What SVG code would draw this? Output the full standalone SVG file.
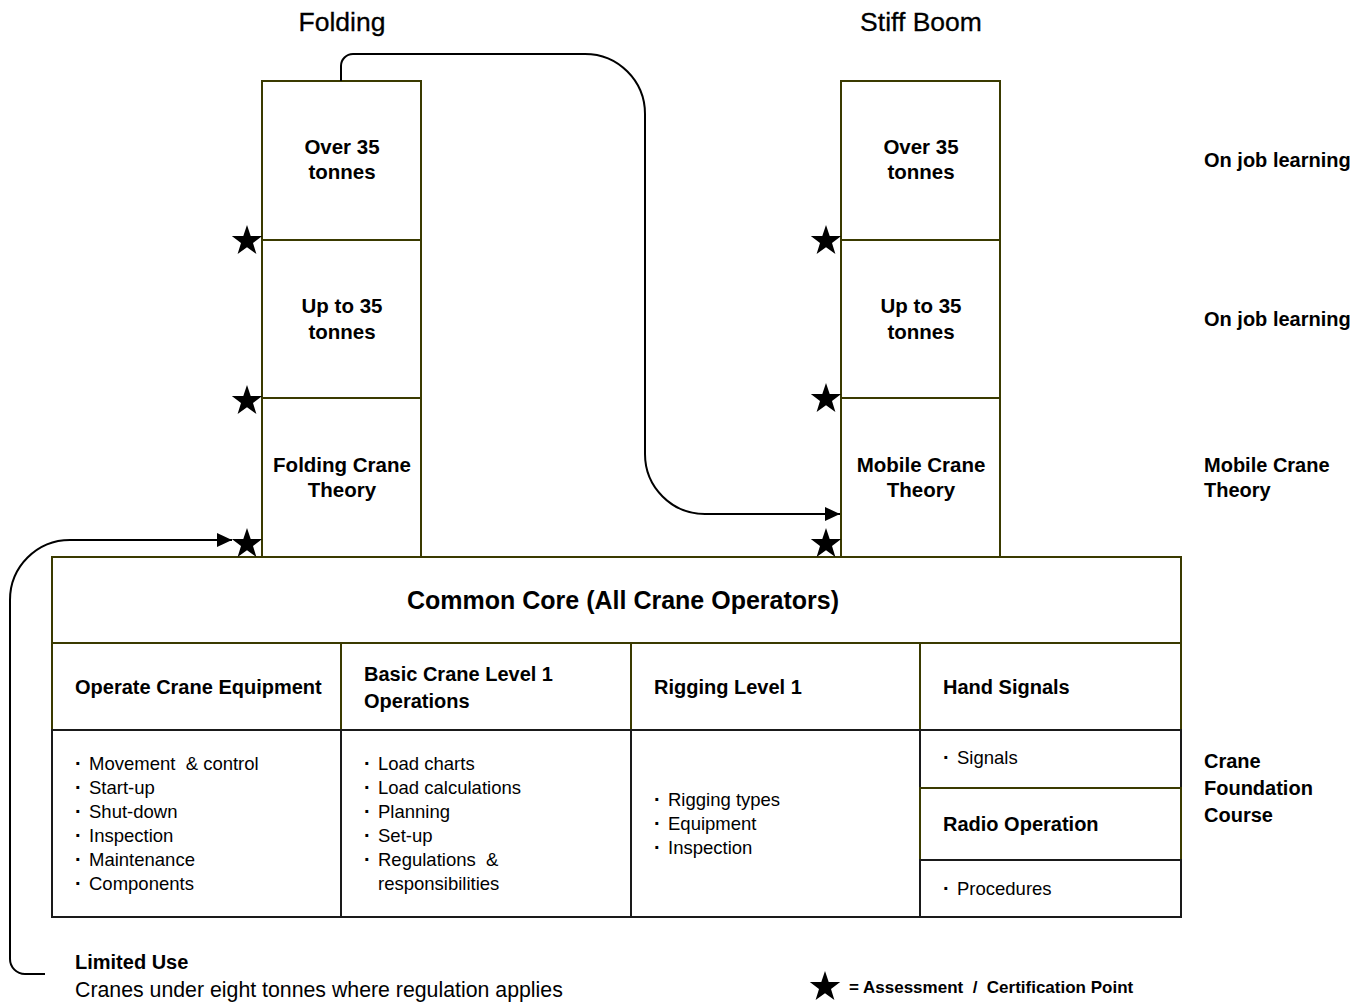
<svg xmlns="http://www.w3.org/2000/svg" width="1368" height="1002" viewBox="0 0 1368 1002">
<defs>
<style>
text{font-family:"Liberation Sans",Arial,sans-serif;fill:#000}
.t{font-size:26.5px;text-anchor:middle;stroke:#000;stroke-width:0.3}
.b{font-size:20px;font-weight:bold}
.bc{font-size:20.5px;font-weight:bold;text-anchor:middle}
.core{font-size:25px;font-weight:bold;text-anchor:middle}
.r{font-size:18.5px}
.d{font-weight:bold;font-size:20px}
.ol{fill:#fff;stroke:#3a3a00;stroke-width:2}
.bk{fill:#fff;stroke:#1a1a1a;stroke-width:2}
.conn{fill:none;stroke:#000;stroke-width:2}
</style>
<path id="star" d="M0,-16 L3.7,-5.1 L15.2,-4.9 L6,1.9 L9.4,13 L0,6.3 L-9.4,13 L-6,1.9 L-15.2,-4.9 L-3.7,-5.1 Z" fill="#000"/>
<marker id="arr" markerWidth="16" markerHeight="14" refX="15" refY="7" orient="auto" markerUnits="userSpaceOnUse">
<path d="M0,0 L15,7 L0,14 Z" fill="#000"/>
</marker>
</defs>
<rect width="1368" height="1002" fill="#fff"/>

<text class="t" x="342" y="31">Folding</text>
<text class="t" x="921" y="31">Stiff Boom</text>

<g id="folding-over35"><rect class="ol" x="262" y="81" width="159" height="159"/><text class="bc" x="342" y="154">Over 35</text><text class="bc" x="342" y="179">tonnes</text></g>
<g id="folding-upto35"><rect class="ol" x="262" y="240" width="159" height="158"/><text class="bc" x="342" y="313">Up to 35</text><text class="bc" x="342" y="339">tonnes</text></g>
<g id="folding-theory"><rect class="ol" x="262" y="398" width="159" height="159"/><text class="bc" x="342" y="472">Folding Crane</text><text class="bc" x="342" y="497">Theory</text></g>

<g id="stiff-over35"><rect class="ol" x="841" y="81" width="159" height="159"/><text class="bc" x="921" y="154">Over 35</text><text class="bc" x="921" y="179">tonnes</text></g>
<g id="stiff-upto35"><rect class="ol" x="841" y="240" width="159" height="158"/><text class="bc" x="921" y="313">Up to 35</text><text class="bc" x="921" y="339">tonnes</text></g>
<g id="stiff-theory"><rect class="ol" x="841" y="398" width="159" height="159"/><text class="bc" x="921" y="472">Mobile Crane</text><text class="bc" x="921" y="497">Theory</text></g>

<g id="common-core"><rect class="ol" x="52" y="557" width="1129" height="86"/><text class="core" x="623" y="609">Common Core (All Crane Operators)</text></g>

<g id="operate-crane"><rect class="ol" x="52" y="643" width="289" height="87"/><text class="b" x="75" y="694">Operate Crane Equipment</text></g>
<g id="basic-crane"><rect class="ol" x="341" y="643" width="290" height="87"/><text class="b" x="364" y="681">Basic Crane Level 1</text><text class="b" x="364" y="708">Operations</text></g>
<g id="rigging"><rect class="ol" x="631" y="643" width="289" height="87"/><text class="b" x="654" y="694">Rigging Level 1</text></g>
<g id="hand-signals"><rect class="ol" x="920" y="643" width="261" height="87"/><text class="b" x="943" y="694">Hand Signals</text></g>

<g id="operate-list"><rect class="bk" x="52" y="730" width="289" height="187"/>
<text class="r" y="770" xml:space="preserve"><tspan class="d" x="75">·</tspan><tspan x="89">Movement  &amp; control</tspan></text>
<text class="r" y="794"><tspan class="d" x="75">·</tspan><tspan x="89">Start-up</tspan></text>
<text class="r" y="818"><tspan class="d" x="75">·</tspan><tspan x="89">Shut-down</tspan></text>
<text class="r" y="842"><tspan class="d" x="75">·</tspan><tspan x="89">Inspection</tspan></text>
<text class="r" y="866"><tspan class="d" x="75">·</tspan><tspan x="89">Maintenance</tspan></text>
<text class="r" y="890"><tspan class="d" x="75">·</tspan><tspan x="89">Components</tspan></text></g>
<g id="basic-list"><rect class="bk" x="341" y="730" width="290" height="187"/>
<text class="r" y="770"><tspan class="d" x="364">·</tspan><tspan x="378">Load charts</tspan></text>
<text class="r" y="794"><tspan class="d" x="364">·</tspan><tspan x="378">Load calculations</tspan></text>
<text class="r" y="818"><tspan class="d" x="364">·</tspan><tspan x="378">Planning</tspan></text>
<text class="r" y="842"><tspan class="d" x="364">·</tspan><tspan x="378">Set-up</tspan></text>
<text class="r" y="866" xml:space="preserve"><tspan class="d" x="364">·</tspan><tspan x="378">Regulations  &amp;</tspan></text>
<text class="r" x="378" y="890">responsibilities</text></g>
<g id="rigging-list"><rect class="bk" x="631" y="730" width="289" height="187"/>
<text class="r" y="806"><tspan class="d" x="654">·</tspan><tspan x="668">Rigging types</tspan></text>
<text class="r" y="830"><tspan class="d" x="654">·</tspan><tspan x="668">Equipment</tspan></text>
<text class="r" y="854"><tspan class="d" x="654">·</tspan><tspan x="668">Inspection</tspan></text></g>
<g id="signals-list"><rect class="bk" x="920" y="730" width="261" height="58"/><text class="r" y="764"><tspan class="d" x="943">·</tspan><tspan x="957">Signals</tspan></text></g>
<g id="radio-operation"><rect class="ol" x="920" y="788" width="261" height="72"/><text class="b" x="943" y="831">Radio Operation</text></g>
<g id="procedures-list"><rect class="bk" x="920" y="860" width="261" height="57"/><text class="r" y="895"><tspan class="d" x="943">·</tspan><tspan x="957">Procedures</tspan></text></g>

<g id="side-labels">
<text class="b" x="1204" y="167">On job learning</text>
<text class="b" x="1204" y="326">On job learning</text>
<text class="b" x="1204" y="472">Mobile Crane</text>
<text class="b" x="1204" y="497">Theory</text>
<text class="b" x="1204" y="768">Crane</text>
<text class="b" x="1204" y="795">Foundation</text>
<text class="b" x="1204" y="822">Course</text>
</g>

<g id="limited-use">
<text class="b" x="75" y="969">Limited Use</text>
<text x="75" y="997" font-size="21.3">Cranes under eight tonnes where regulation applies</text>
</g>

<g id="connectors">
<path class="conn" d="M341,81 V66 A12,12 0 0 1 353,54 H585 A60,60 0 0 1 645,114 V454 A60,60 0 0 0 705,514 H840" marker-end="url(#arr)"/>
<path class="conn" d="M45,974 H25 A15,15 0 0 1 10,959 V600 A60,60 0 0 1 70,540 H232" marker-end="url(#arr)"/>
</g>

<g id="stars">
<use href="#star" x="247" y="241"/>
<use href="#star" x="247" y="401"/>
<use href="#star" x="247" y="544"/>
<use href="#star" x="826" y="241"/>
<use href="#star" x="826" y="399"/>
<use href="#star" x="826" y="544"/>
</g>

<g id="legend">
<use href="#star" x="825" y="987"/>
<text x="849" y="993" font-size="17" font-weight="bold" xml:space="preserve">= Assessment  /  Certification Point</text>
</g>
</svg>
